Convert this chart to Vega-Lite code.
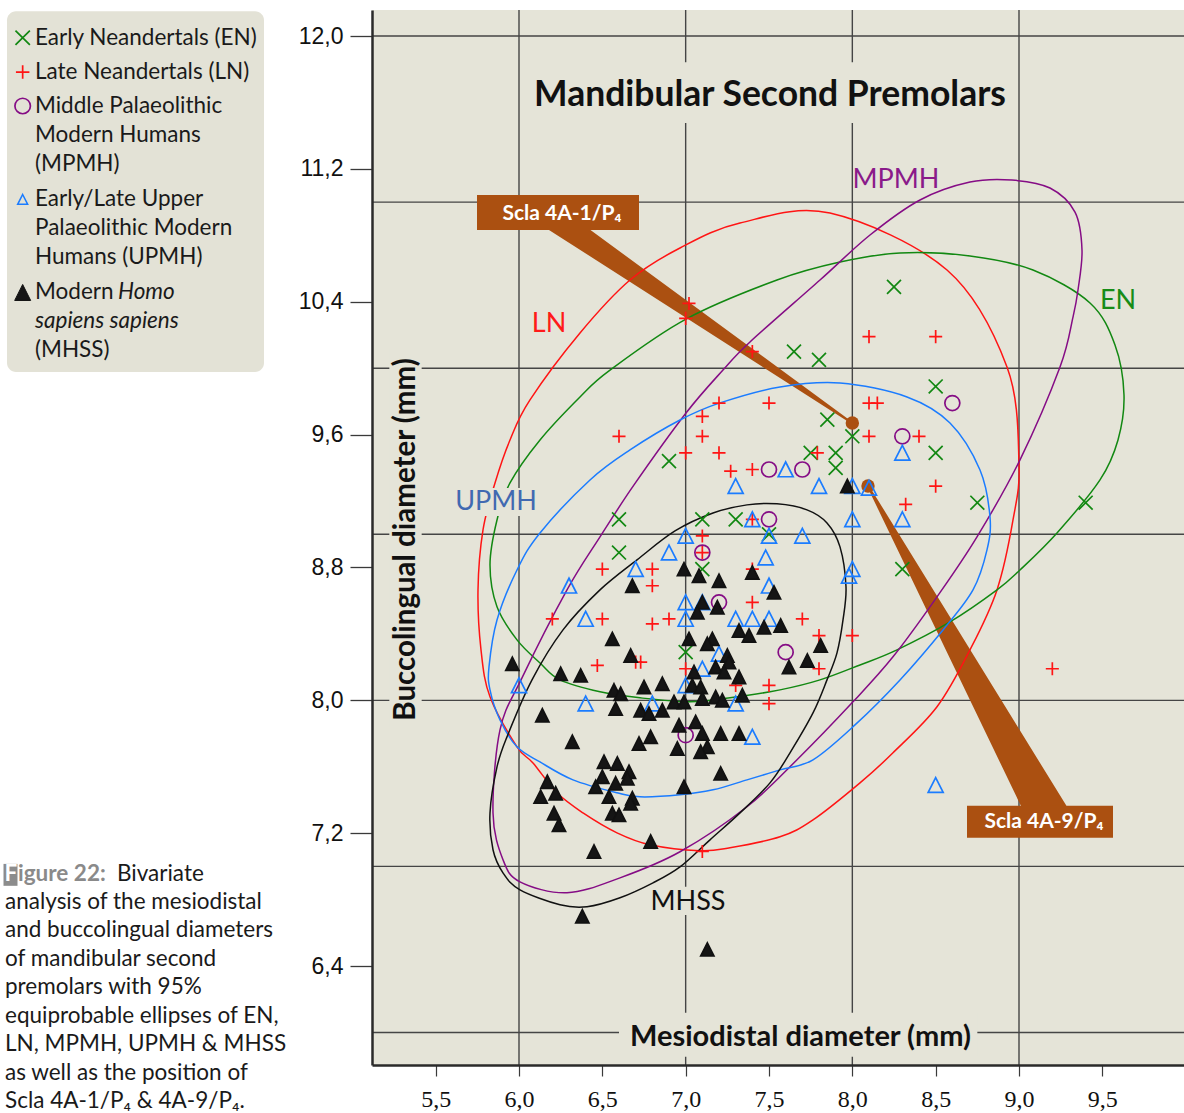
{
  "$schema": "https://vega.github.io/schema/vega-lite/v6.json",
  "width": 812,
  "height": 1055,
  "autosize": {"type": "none"},
  "padding": {"left": 372, "top": 10, "right": 0, "bottom": 48},
  "background": "#ffffff",
  "config": {"view": {"fill": "#e5e4d8", "stroke": null}},
  "title": {"text": "Mandibular Second Premolars", "frame": "group", "anchor": "middle", "orient": "top", "offset": -121, "baseline": "middle", "dx": -8, "font": "Lato", "fontSize": 35.5, "fontWeight": "bold", "color": "#111111"},
  "resolve": {"scale": {"size": "independent"}},
  "datasets": {
    "gridx": [{"x": 6}, {"x": 7}, {"x": 8}, {"x": 9}],
    "gridy": [{"y": 6}, {"y": 7}, {"y": 8}, {"y": 9}, {"y": 10}, {"y": 11}, {"y": 12}],
    "wedgeA": [{"x": 6.18, "y": 10.922, "e": 1}, {"x": 7.998, "y": 9.67, "e": 0}],
    "wedgeB": [{"x": 8.094, "y": 9.291, "e": 0}, {"x": 9.174, "y": 7.31, "e": 1}],
    "dots": [{"x": 8.0, "y": 9.67}, {"x": 8.094, "y": 9.291}],
    "boxes": [
      {"x": 6.036, "x2": 8.976, "y": 11.476, "y2": 11.843},
      {"x": 6.6, "x2": 8.75, "y": 5.853, "y2": 6.118},
      {"x": 5.222, "x2": 5.416, "y": 7.84, "y2": 10.12},
      {"x": 5.616, "x2": 6.114, "y": 9.11, "y2": 9.279},
      {"x": 6.786, "x2": 7.242, "y": 6.708, "y2": 6.877}
    ],
    "elabels": [
      {"g": "LN", "x": 6.18, "y": 10.266},
      {"g": "EN", "x": 9.594, "y": 10.405},
      {"g": "MPMH", "x": 8.262, "y": 11.133},
      {"g": "UPMH", "x": 5.862, "y": 9.195},
      {"g": "MHSS", "x": 7.014, "y": 6.787}
    ],
    "ellipses": [
      {"g": "LN", "i": 1, "x": 7.866, "y": 10.934}, {"g": "LN", "i": 2, "x": 8.568, "y": 10.591}, {"g": "LN", "i": 3, "x": 8.928, "y": 10.007}, {"g": "LN", "i": 4, "x": 9.0, "y": 9.429}, {"g": "LN", "i": 5, "x": 8.964, "y": 9.086}, {"g": "LN", "i": 6, "x": 8.868, "y": 8.665}, {"g": "LN", "i": 7, "x": 8.706, "y": 8.304}, {"g": "LN", "i": 8, "x": 8.508, "y": 7.961}, {"g": "LN", "i": 9, "x": 8.244, "y": 7.684}, {"g": "LN", "i": 10, "x": 8.046, "y": 7.503}, {"g": "LN", "i": 11, "x": 7.764, "y": 7.28}, {"g": "LN", "i": 12, "x": 7.566, "y": 7.178}, {"g": "LN", "i": 13, "x": 7.266, "y": 7.112}, {"g": "LN", "i": 14, "x": 7.086, "y": 7.094}, {"g": "LN", "i": 15, "x": 6.786, "y": 7.13}, {"g": "LN", "i": 16, "x": 6.588, "y": 7.202}, {"g": "LN", "i": 17, "x": 6.384, "y": 7.322}, {"g": "LN", "i": 18, "x": 6.228, "y": 7.443}, {"g": "LN", "i": 19, "x": 6.084, "y": 7.623}, {"g": "LN", "i": 20, "x": 5.988, "y": 7.72}, {"g": "LN", "i": 21, "x": 5.826, "y": 8.021}, {"g": "LN", "i": 22, "x": 5.772, "y": 8.304}, {"g": "LN", "i": 23, "x": 5.754, "y": 8.665}, {"g": "LN", "i": 24, "x": 5.784, "y": 9.026}, {"g": "LN", "i": 25, "x": 5.856, "y": 9.309}, {"g": "LN", "i": 26, "x": 5.946, "y": 9.568}, {"g": "LN", "i": 27, "x": 6.066, "y": 9.809}, {"g": "LN", "i": 28, "x": 6.366, "y": 10.212}, {"g": "LN", "i": 29, "x": 6.666, "y": 10.531}, {"g": "LN", "i": 30, "x": 6.966, "y": 10.724}, {"g": "LN", "i": 31, "x": 7.326, "y": 10.874},
      {"g": "EN", "i": 1, "x": 8.286, "y": 10.694}, {"g": "EN", "i": 2, "x": 8.706, "y": 10.676}, {"g": "EN", "i": 3, "x": 9.084, "y": 10.591}, {"g": "EN", "i": 4, "x": 9.426, "y": 10.393}, {"g": "EN", "i": 5, "x": 9.576, "y": 10.14}, {"g": "EN", "i": 6, "x": 9.63, "y": 9.839}, {"g": "EN", "i": 7, "x": 9.594, "y": 9.568}, {"g": "EN", "i": 8, "x": 9.486, "y": 9.327}, {"g": "EN", "i": 9, "x": 9.228, "y": 9.008}, {"g": "EN", "i": 10, "x": 9.006, "y": 8.785}, {"g": "EN", "i": 11, "x": 8.868, "y": 8.665}, {"g": "EN", "i": 12, "x": 8.586, "y": 8.472}, {"g": "EN", "i": 13, "x": 8.268, "y": 8.304}, {"g": "EN", "i": 14, "x": 8.046, "y": 8.213}, {"g": "EN", "i": 15, "x": 7.806, "y": 8.123}, {"g": "EN", "i": 16, "x": 7.566, "y": 8.063}, {"g": "EN", "i": 17, "x": 7.266, "y": 8.015}, {"g": "EN", "i": 18, "x": 7.026, "y": 7.991}, {"g": "EN", "i": 19, "x": 6.726, "y": 8.015}, {"g": "EN", "i": 20, "x": 6.486, "y": 8.051}, {"g": "EN", "i": 21, "x": 6.246, "y": 8.123}, {"g": "EN", "i": 22, "x": 6.126, "y": 8.225}, {"g": "EN", "i": 23, "x": 5.988, "y": 8.364}, {"g": "EN", "i": 24, "x": 5.868, "y": 8.563}, {"g": "EN", "i": 25, "x": 5.826, "y": 8.815}, {"g": "EN", "i": 26, "x": 5.868, "y": 9.086}, {"g": "EN", "i": 27, "x": 5.946, "y": 9.309}, {"g": "EN", "i": 28, "x": 6.126, "y": 9.568}, {"g": "EN", "i": 29, "x": 6.366, "y": 9.827}, {"g": "EN", "i": 30, "x": 6.546, "y": 9.989}, {"g": "EN", "i": 31, "x": 7.002, "y": 10.296}, {"g": "EN", "i": 32, "x": 7.548, "y": 10.531}, {"g": "EN", "i": 33, "x": 7.926, "y": 10.639},
      {"g": "MPMH", "i": 1, "x": 8.958, "y": 11.133}, {"g": "MPMH", "i": 2, "x": 9.186, "y": 11.085}, {"g": "MPMH", "i": 3, "x": 9.336, "y": 10.94}, {"g": "MPMH", "i": 4, "x": 9.378, "y": 10.712}, {"g": "MPMH", "i": 5, "x": 9.354, "y": 10.471}, {"g": "MPMH", "i": 6, "x": 9.324, "y": 10.308}, {"g": "MPMH", "i": 7, "x": 9.246, "y": 10.007}, {"g": "MPMH", "i": 8, "x": 9.006, "y": 9.448}, {"g": "MPMH", "i": 9, "x": 8.748, "y": 8.984}, {"g": "MPMH", "i": 10, "x": 8.508, "y": 8.623}, {"g": "MPMH", "i": 11, "x": 8.244, "y": 8.262}, {"g": "MPMH", "i": 12, "x": 8.004, "y": 7.991}, {"g": "MPMH", "i": 13, "x": 7.668, "y": 7.642}, {"g": "MPMH", "i": 14, "x": 7.368, "y": 7.359}, {"g": "MPMH", "i": 15, "x": 6.966, "y": 7.088}, {"g": "MPMH", "i": 16, "x": 6.606, "y": 6.931}, {"g": "MPMH", "i": 17, "x": 6.288, "y": 6.841}, {"g": "MPMH", "i": 18, "x": 6.006, "y": 6.907}, {"g": "MPMH", "i": 19, "x": 5.904, "y": 7.04}, {"g": "MPMH", "i": 20, "x": 5.844, "y": 7.322}, {"g": "MPMH", "i": 21, "x": 5.886, "y": 7.822}, {"g": "MPMH", "i": 22, "x": 6.018, "y": 8.135}, {"g": "MPMH", "i": 23, "x": 6.288, "y": 8.665}, {"g": "MPMH", "i": 24, "x": 6.486, "y": 8.984}, {"g": "MPMH", "i": 25, "x": 6.69, "y": 9.297}, {"g": "MPMH", "i": 26, "x": 7.002, "y": 9.73}, {"g": "MPMH", "i": 27, "x": 7.224, "y": 9.989}, {"g": "MPMH", "i": 28, "x": 7.386, "y": 10.158}, {"g": "MPMH", "i": 29, "x": 7.806, "y": 10.531}, {"g": "MPMH", "i": 30, "x": 8.106, "y": 10.802}, {"g": "MPMH", "i": 31, "x": 8.406, "y": 11.013}, {"g": "MPMH", "i": 32, "x": 8.706, "y": 11.121},
      {"g": "UPMH", "i": 1, "x": 7.926, "y": 9.911}, {"g": "UPMH", "i": 2, "x": 8.328, "y": 9.827}, {"g": "UPMH", "i": 3, "x": 8.586, "y": 9.67}, {"g": "UPMH", "i": 4, "x": 8.766, "y": 9.387}, {"g": "UPMH", "i": 5, "x": 8.826, "y": 9.104}, {"g": "UPMH", "i": 6, "x": 8.808, "y": 8.906}, {"g": "UPMH", "i": 7, "x": 8.724, "y": 8.665}, {"g": "UPMH", "i": 8, "x": 8.544, "y": 8.424}, {"g": "UPMH", "i": 9, "x": 8.286, "y": 8.123}, {"g": "UPMH", "i": 10, "x": 8.016, "y": 7.852}, {"g": "UPMH", "i": 11, "x": 7.764, "y": 7.642}, {"g": "UPMH", "i": 12, "x": 7.566, "y": 7.581}, {"g": "UPMH", "i": 13, "x": 7.368, "y": 7.521}, {"g": "UPMH", "i": 14, "x": 7.164, "y": 7.461}, {"g": "UPMH", "i": 15, "x": 6.966, "y": 7.431}, {"g": "UPMH", "i": 16, "x": 6.726, "y": 7.419}, {"g": "UPMH", "i": 17, "x": 6.588, "y": 7.443}, {"g": "UPMH", "i": 18, "x": 6.324, "y": 7.521}, {"g": "UPMH", "i": 19, "x": 6.126, "y": 7.629}, {"g": "UPMH", "i": 20, "x": 5.988, "y": 7.72}, {"g": "UPMH", "i": 21, "x": 5.886, "y": 7.882}, {"g": "UPMH", "i": 22, "x": 5.826, "y": 8.063}, {"g": "UPMH", "i": 23, "x": 5.82, "y": 8.201}, {"g": "UPMH", "i": 24, "x": 5.868, "y": 8.484}, {"g": "UPMH", "i": 25, "x": 5.988, "y": 8.785}, {"g": "UPMH", "i": 26, "x": 6.126, "y": 9.008}, {"g": "UPMH", "i": 27, "x": 6.426, "y": 9.327}, {"g": "UPMH", "i": 28, "x": 6.666, "y": 9.508}, {"g": "UPMH", "i": 29, "x": 6.966, "y": 9.688}, {"g": "UPMH", "i": 30, "x": 7.206, "y": 9.791}, {"g": "UPMH", "i": 31, "x": 7.566, "y": 9.887},
      {"g": "MHSS", "i": 1, "x": 7.368, "y": 9.177}, {"g": "MHSS", "i": 2, "x": 7.548, "y": 9.183}, {"g": "MHSS", "i": 3, "x": 7.728, "y": 9.147}, {"g": "MHSS", "i": 4, "x": 7.848, "y": 9.068}, {"g": "MHSS", "i": 5, "x": 7.926, "y": 8.924}, {"g": "MHSS", "i": 6, "x": 7.962, "y": 8.683}, {"g": "MHSS", "i": 7, "x": 7.944, "y": 8.484}, {"g": "MHSS", "i": 8, "x": 7.908, "y": 8.286}, {"g": "MHSS", "i": 9, "x": 7.848, "y": 8.123}, {"g": "MHSS", "i": 10, "x": 7.764, "y": 7.924}, {"g": "MHSS", "i": 11, "x": 7.626, "y": 7.684}, {"g": "MHSS", "i": 12, "x": 7.506, "y": 7.503}, {"g": "MHSS", "i": 13, "x": 7.326, "y": 7.322}, {"g": "MHSS", "i": 14, "x": 7.146, "y": 7.16}, {"g": "MHSS", "i": 15, "x": 6.966, "y": 6.997}, {"g": "MHSS", "i": 16, "x": 6.804, "y": 6.901}, {"g": "MHSS", "i": 17, "x": 6.606, "y": 6.811}, {"g": "MHSS", "i": 18, "x": 6.408, "y": 6.757}, {"g": "MHSS", "i": 19, "x": 6.246, "y": 6.769}, {"g": "MHSS", "i": 20, "x": 6.006, "y": 6.859}, {"g": "MHSS", "i": 21, "x": 5.904, "y": 6.961}, {"g": "MHSS", "i": 22, "x": 5.844, "y": 7.1}, {"g": "MHSS", "i": 23, "x": 5.826, "y": 7.322}, {"g": "MHSS", "i": 24, "x": 5.868, "y": 7.599}, {"g": "MHSS", "i": 25, "x": 5.928, "y": 7.78}, {"g": "MHSS", "i": 26, "x": 6.078, "y": 8.123}, {"g": "MHSS", "i": 27, "x": 6.264, "y": 8.424}, {"g": "MHSS", "i": 28, "x": 6.486, "y": 8.665}, {"g": "MHSS", "i": 29, "x": 6.708, "y": 8.846}, {"g": "MHSS", "i": 30, "x": 6.936, "y": 9.02}, {"g": "MHSS", "i": 31, "x": 7.164, "y": 9.128}
    ],
    "pts": [
      {"g": "EN", "x": 8.25, "y": 10.49}, {"g": "EN", "x": 7.65, "y": 10.1}, {"g": "EN", "x": 7.8, "y": 10.05}, {"g": "EN", "x": 8.5, "y": 9.89}, {"g": "EN", "x": 7.85, "y": 9.69}, {"g": "EN", "x": 8.0, "y": 9.59}, {"g": "EN", "x": 6.9, "y": 9.44}, {"g": "EN", "x": 7.75, "y": 9.49}, {"g": "EN", "x": 7.9, "y": 9.49}, {"g": "EN", "x": 7.9, "y": 9.4}, {"g": "EN", "x": 8.5, "y": 9.49}, {"g": "EN", "x": 8.75, "y": 9.19}, {"g": "EN", "x": 9.4, "y": 9.19}, {"g": "EN", "x": 6.6, "y": 9.09}, {"g": "EN", "x": 7.1, "y": 9.09}, {"g": "EN", "x": 7.3, "y": 9.09}, {"g": "EN", "x": 7.5, "y": 9.0}, {"g": "EN", "x": 6.6, "y": 8.89}, {"g": "EN", "x": 7.1, "y": 8.79}, {"g": "EN", "x": 8.3, "y": 8.79}, {"g": "EN", "x": 7.0, "y": 8.29},
      {"g": "LN", "x": 7.02, "y": 10.39}, {"g": "LN", "x": 7.0, "y": 10.3}, {"g": "LN", "x": 7.4, "y": 10.1}, {"g": "LN", "x": 7.2, "y": 9.79}, {"g": "LN", "x": 7.5, "y": 9.79}, {"g": "LN", "x": 7.1, "y": 9.71}, {"g": "LN", "x": 6.6, "y": 9.59}, {"g": "LN", "x": 7.1, "y": 9.59}, {"g": "LN", "x": 7.0, "y": 9.49}, {"g": "LN", "x": 7.2, "y": 9.49}, {"g": "LN", "x": 7.27, "y": 9.38}, {"g": "LN", "x": 7.4, "y": 9.39}, {"g": "LN", "x": 7.79, "y": 9.49}, {"g": "LN", "x": 8.1, "y": 10.19}, {"g": "LN", "x": 8.5, "y": 10.19}, {"g": "LN", "x": 8.1, "y": 9.79}, {"g": "LN", "x": 8.15, "y": 9.79}, {"g": "LN", "x": 8.1, "y": 9.59}, {"g": "LN", "x": 8.4, "y": 9.59}, {"g": "LN", "x": 8.5, "y": 9.29}, {"g": "LN", "x": 8.32, "y": 9.18}, {"g": "LN", "x": 9.2, "y": 8.19}, {"g": "LN", "x": 6.5, "y": 8.79}, {"g": "LN", "x": 6.8, "y": 8.79}, {"g": "LN", "x": 6.8, "y": 8.69}, {"g": "LN", "x": 6.2, "y": 8.49}, {"g": "LN", "x": 6.5, "y": 8.49}, {"g": "LN", "x": 6.8, "y": 8.46}, {"g": "LN", "x": 6.9, "y": 8.49}, {"g": "LN", "x": 6.47, "y": 8.21}, {"g": "LN", "x": 6.7, "y": 8.23}, {"g": "LN", "x": 6.73, "y": 8.23}, {"g": "LN", "x": 7.4, "y": 9.09}, {"g": "LN", "x": 7.1, "y": 8.99}, {"g": "LN", "x": 7.1, "y": 8.89}, {"g": "LN", "x": 7.4, "y": 8.79}, {"g": "LN", "x": 7.4, "y": 8.59}, {"g": "LN", "x": 7.7, "y": 8.49}, {"g": "LN", "x": 7.8, "y": 8.39}, {"g": "LN", "x": 8.0, "y": 8.39}, {"g": "LN", "x": 7.8, "y": 8.19}, {"g": "LN", "x": 7.0, "y": 8.19}, {"g": "LN", "x": 7.3, "y": 8.09}, {"g": "LN", "x": 7.5, "y": 8.09}, {"g": "LN", "x": 7.5, "y": 7.98}, {"g": "LN", "x": 7.1, "y": 7.09},
      {"g": "MPMH", "x": 7.5, "y": 9.39}, {"g": "MPMH", "x": 7.7, "y": 9.39}, {"g": "MPMH", "x": 8.6, "y": 9.79}, {"g": "MPMH", "x": 8.3, "y": 9.59}, {"g": "MPMH", "x": 7.5, "y": 9.09}, {"g": "MPMH", "x": 7.1, "y": 8.89}, {"g": "MPMH", "x": 7.2, "y": 8.59}, {"g": "MPMH", "x": 7.6, "y": 8.29}, {"g": "MPMH", "x": 7.0, "y": 7.79},
      {"g": "UPMH", "x": 7.6, "y": 9.39}, {"g": "UPMH", "x": 7.3, "y": 9.29}, {"g": "UPMH", "x": 7.8, "y": 9.29}, {"g": "UPMH", "x": 8.0, "y": 9.29}, {"g": "UPMH", "x": 8.1, "y": 9.28}, {"g": "UPMH", "x": 8.3, "y": 9.49}, {"g": "UPMH", "x": 8.0, "y": 9.09}, {"g": "UPMH", "x": 8.3, "y": 9.09}, {"g": "UPMH", "x": 8.5, "y": 7.49}, {"g": "UPMH", "x": 6.3, "y": 8.69}, {"g": "UPMH", "x": 6.4, "y": 8.49}, {"g": "UPMH", "x": 6.7, "y": 8.79}, {"g": "UPMH", "x": 6.9, "y": 8.89}, {"g": "UPMH", "x": 7.0, "y": 8.99}, {"g": "UPMH", "x": 7.0, "y": 8.59}, {"g": "UPMH", "x": 7.0, "y": 8.49}, {"g": "UPMH", "x": 7.4, "y": 9.09}, {"g": "UPMH", "x": 7.5, "y": 8.99}, {"g": "UPMH", "x": 7.7, "y": 8.99}, {"g": "UPMH", "x": 7.48, "y": 8.86}, {"g": "UPMH", "x": 8.0, "y": 8.79}, {"g": "UPMH", "x": 7.98, "y": 8.75}, {"g": "UPMH", "x": 7.5, "y": 8.69}, {"g": "UPMH", "x": 7.1, "y": 8.59}, {"g": "UPMH", "x": 7.3, "y": 8.49}, {"g": "UPMH", "x": 7.4, "y": 8.49}, {"g": "UPMH", "x": 7.5, "y": 8.49}, {"g": "UPMH", "x": 7.2, "y": 8.28}, {"g": "UPMH", "x": 7.1, "y": 8.19}, {"g": "UPMH", "x": 6.0, "y": 8.09}, {"g": "UPMH", "x": 6.4, "y": 7.98}, {"g": "UPMH", "x": 6.8, "y": 7.98}, {"g": "UPMH", "x": 7.0, "y": 8.09}, {"g": "UPMH", "x": 7.3, "y": 7.98}, {"g": "UPMH", "x": 7.4, "y": 7.78},
      {"g": "MHSS", "x": 6.99, "y": 8.79}, {"g": "MHSS", "x": 6.68, "y": 8.69}, {"g": "MHSS", "x": 6.56, "y": 8.37}, {"g": "MHSS", "x": 6.67, "y": 8.27}, {"g": "MHSS", "x": 5.96, "y": 8.22}, {"g": "MHSS", "x": 6.25, "y": 8.16}, {"g": "MHSS", "x": 6.37, "y": 8.15}, {"g": "MHSS", "x": 6.86, "y": 8.1}, {"g": "MHSS", "x": 7.97, "y": 9.29}, {"g": "MHSS", "x": 7.08, "y": 8.75}, {"g": "MHSS", "x": 7.2, "y": 8.72}, {"g": "MHSS", "x": 7.4, "y": 8.77}, {"g": "MHSS", "x": 7.53, "y": 8.65}, {"g": "MHSS", "x": 7.1, "y": 8.59}, {"g": "MHSS", "x": 7.07, "y": 8.53}, {"g": "MHSS", "x": 7.19, "y": 8.56}, {"g": "MHSS", "x": 7.32, "y": 8.42}, {"g": "MHSS", "x": 7.38, "y": 8.39}, {"g": "MHSS", "x": 7.47, "y": 8.44}, {"g": "MHSS", "x": 7.57, "y": 8.45}, {"g": "MHSS", "x": 7.02, "y": 8.37}, {"g": "MHSS", "x": 7.16, "y": 8.37}, {"g": "MHSS", "x": 7.13, "y": 8.34}, {"g": "MHSS", "x": 7.25, "y": 8.27}, {"g": "MHSS", "x": 7.26, "y": 8.23}, {"g": "MHSS", "x": 7.18, "y": 8.2}, {"g": "MHSS", "x": 7.23, "y": 8.17}, {"g": "MHSS", "x": 7.05, "y": 8.17}, {"g": "MHSS", "x": 7.32, "y": 8.14}, {"g": "MHSS", "x": 7.73, "y": 8.24}, {"g": "MHSS", "x": 7.62, "y": 8.2}, {"g": "MHSS", "x": 7.81, "y": 8.33}, {"g": "MHSS", "x": 6.57, "y": 8.06}, {"g": "MHSS", "x": 6.61, "y": 8.04}, {"g": "MHSS", "x": 6.75, "y": 8.08}, {"g": "MHSS", "x": 6.58, "y": 7.95}, {"g": "MHSS", "x": 6.73, "y": 7.94}, {"g": "MHSS", "x": 6.78, "y": 7.92}, {"g": "MHSS", "x": 6.86, "y": 7.94}, {"g": "MHSS", "x": 6.93, "y": 7.99}, {"g": "MHSS", "x": 6.99, "y": 7.99}, {"g": "MHSS", "x": 6.14, "y": 7.91}, {"g": "MHSS", "x": 6.96, "y": 7.85}, {"g": "MHSS", "x": 6.79, "y": 7.78}, {"g": "MHSS", "x": 6.72, "y": 7.74}, {"g": "MHSS", "x": 6.95, "y": 7.71}, {"g": "MHSS", "x": 6.32, "y": 7.75}, {"g": "MHSS", "x": 6.51, "y": 7.63}, {"g": "MHSS", "x": 6.59, "y": 7.62}, {"g": "MHSS", "x": 6.5, "y": 7.54}, {"g": "MHSS", "x": 6.66, "y": 7.57}, {"g": "MHSS", "x": 6.65, "y": 7.53}, {"g": "MHSS", "x": 6.58, "y": 7.5}, {"g": "MHSS", "x": 6.46, "y": 7.48}, {"g": "MHSS", "x": 6.17, "y": 7.51}, {"g": "MHSS", "x": 6.54, "y": 7.42}, {"g": "MHSS", "x": 6.68, "y": 7.41}, {"g": "MHSS", "x": 6.67, "y": 7.38}, {"g": "MHSS", "x": 6.99, "y": 7.48}, {"g": "MHSS", "x": 6.22, "y": 7.44}, {"g": "MHSS", "x": 6.13, "y": 7.42}, {"g": "MHSS", "x": 6.21, "y": 7.32}, {"g": "MHSS", "x": 6.56, "y": 7.32}, {"g": "MHSS", "x": 6.6, "y": 7.31}, {"g": "MHSS", "x": 6.24, "y": 7.25}, {"g": "MHSS", "x": 6.79, "y": 7.15}, {"g": "MHSS", "x": 6.45, "y": 7.09}, {"g": "MHSS", "x": 7.04, "y": 8.09}, {"g": "MHSS", "x": 7.09, "y": 8.08}, {"g": "MHSS", "x": 7.18, "y": 8.02}, {"g": "MHSS", "x": 7.22, "y": 8.0}, {"g": "MHSS", "x": 7.1, "y": 8.01}, {"g": "MHSS", "x": 7.34, "y": 8.03}, {"g": "MHSS", "x": 7.06, "y": 7.87}, {"g": "MHSS", "x": 7.1, "y": 7.8}, {"g": "MHSS", "x": 7.21, "y": 7.8}, {"g": "MHSS", "x": 7.32, "y": 7.8}, {"g": "MHSS", "x": 7.13, "y": 7.72}, {"g": "MHSS", "x": 7.09, "y": 7.69}, {"g": "MHSS", "x": 7.21, "y": 7.56}, {"g": "MHSS", "x": 6.38, "y": 6.7}, {"g": "MHSS", "x": 7.13, "y": 6.5}
    ],
    "sclaBoxes": [{"x": 5.748, "x2": 6.72, "y": 10.832, "y2": 11.043}, {"x": 8.688, "x2": 9.564, "y": 7.172, "y2": 7.365}],
    "sclaText": [{"t": "Scla 4A-1/P\u2084", "x": 6.258, "y": 10.928}, {"t": "Scla 4A-9/P\u2084", "x": 9.15, "y": 7.268}],
    "legBox": [{"x": 2.928, "x2": 4.47, "y": 9.977, "y2": 12.15}],
    "legSym": [{"g": "EN", "x": 3.022, "y": 11.99}, {"g": "LN", "x": 3.022, "y": 11.783}, {"g": "MPMH", "x": 3.022, "y": 11.579}],
    "legSymU": [{"g": "UPMH", "x": 3.022, "y": 11.016}],
    "legSymM": [{"g": "MHSS", "x": 3.022, "y": 10.456}],
    "legText": [
      {"t": "Early Neandertals (EN)", "x": 3.096, "y": 11.99},
      {"t": "Late Neandertals (LN)", "x": 3.096, "y": 11.783},
      {"t": "Middle Palaeolithic", "x": 3.096, "y": 11.579},
      {"t": "Modern Humans", "x": 3.096, "y": 11.404},
      {"t": "(MPMH)", "x": 3.096, "y": 11.229},
      {"t": "Early/Late Upper", "x": 3.096, "y": 11.016},
      {"t": "Palaeolithic Modern", "x": 3.096, "y": 10.844},
      {"t": "Humans (UPMH)", "x": 3.096, "y": 10.67},
      {"t": "Modern", "x": 3.096, "y": 10.456},
      {"t": "(MHSS)", "x": 3.096, "y": 10.11}
    ],
    "legItalic": [{"t": "Homo", "x": 3.594, "y": 10.456}, {"t": "sapiens sapiens", "x": 3.096, "y": 10.284}],
    "capBox": [{"x": 2.907, "x2": 2.991, "y": 6.883, "y2": 7.015}],
    "capF": [{"t": "F", "x": 2.913, "y": 6.915}],
    "capFig": [{"t": "igure 22:", "x": 2.994, "y": 6.915}],
    "capBiv": [{"t": "Bivariate", "x": 3.588, "y": 6.915}],
    "capRest": [{"t": "analysis of the mesiodistal\nand buccolingual diameters\nof mandibular second\npremolars with 95%\nequiprobable ellipses of EN,\nLN, MPMH, UPMH & MHSS\nas well as the position of\nScla 4A-1/P\u2084 & 4A-9/P\u2084.", "x": 2.916, "y": 6.746}]
  },
  "layer": [
    {
      "data": {"name": "gridx"},
      "mark": {"type": "rule", "color": "#454545", "strokeWidth": 1.4},
      "encoding": {
        "x": {"field": "x", "type": "quantitative", "scale": {"domain": [5.118, 9.99], "nice": false, "zero": false},
          "axis": {"values": [5.5, 6, 6.5, 7, 7.5, 8, 8.5, 9, 9.5], "labelExpr": "replace(format(datum.value, '.1f'), '.', ',')", "grid": false, "zindex": 1, "domainColor": "#2a2a2a", "domainWidth": 2.5, "tickColor": "#3a3a3a", "tickWidth": 1.2, "tickSize": 11, "labelFont": "Liberation Sans Narrow", "labelFontSize": 24, "labelColor": "#111111", "labelPadding": 11, "labelOverlap": false, "labelFlush": false, "title": "Mesiodistal diameter (mm)", "titleFont": "Lato", "titleFontSize": 29, "titleFontWeight": "bold", "titleColor": "#111111", "titleX": 428, "titleY": -29, "titleAlign": "center", "titleBaseline": "middle", "titleAngle": 0}}
      }
    },
    {
      "data": {"name": "gridy"},
      "mark": {"type": "rule", "color": "#454545", "strokeWidth": 1.4},
      "encoding": {
        "y": {"field": "y", "type": "quantitative", "scale": {"domain": [5.804, 12.157], "nice": false, "zero": false},
          "axis": {"values": [6.4, 7.2, 8, 8.8, 9.6, 10.4, 11.2, 12], "labelExpr": "replace(format(datum.value, '.1f'), '.', ',')", "grid": false, "zindex": 1, "domainColor": "#2a2a2a", "domainWidth": 2.5, "tickColor": "#3a3a3a", "tickWidth": 1.3, "tickSize": 22, "labelFont": "Liberation Sans", "labelFontSize": 23, "labelColor": "#111111", "labelPadding": 7, "labelOverlap": false, "labelFlush": false, "title": "Buccolingual diameter (mm)", "titleFont": "Lato", "titleFontSize": 29.5, "titleFontWeight": "bold", "titleColor": "#111111", "titleX": 33, "titleY": 529, "titleAngle": -90, "titleAlign": "center", "titleBaseline": "middle"}}
      }
    },
    {
      "data": {"name": "wedgeA"},
      "mark": {"type": "trail", "color": "#ab5011"},
      "encoding": {
        "x": {"field": "x", "type": "quantitative"},
        "y": {"field": "y", "type": "quantitative"},
        "size": {"field": "e", "type": "quantitative", "scale": {"domain": [0, 1], "range": [2, 25]}, "legend": null}
      }
    },
    {
      "data": {"name": "wedgeB"},
      "mark": {"type": "trail", "color": "#ab5011"},
      "encoding": {
        "x": {"field": "x", "type": "quantitative"},
        "y": {"field": "y", "type": "quantitative"},
        "size": {"field": "e", "type": "quantitative", "scale": {"domain": [0, 1], "range": [2, 41]}, "legend": null}
      }
    },
    {
      "data": {"name": "ellipses"},
      "mark": {"type": "line", "interpolate": "cardinal-closed", "strokeWidth": 1.5},
      "encoding": {
        "x": {"field": "x", "type": "quantitative"},
        "y": {"field": "y", "type": "quantitative"},
        "stroke": {"field": "g", "type": "nominal", "scale": {"domain": ["EN", "LN", "MPMH", "UPMH", "MHSS"], "range": ["#128812", "#ff1414", "#850c85", "#1b7cff", "#111111"]}, "legend": null},
        "order": {"field": "i", "type": "quantitative"}
      }
    },
    {
      "data": {"name": "boxes"},
      "mark": {"type": "rect", "color": "#e5e4d8"},
      "encoding": {
        "x": {"field": "x", "type": "quantitative"},
        "x2": {"field": "x2"},
        "y": {"field": "y", "type": "quantitative"},
        "y2": {"field": "y2"}
      }
    },
    {
      "data": {"name": "elabels"},
      "mark": {"type": "text", "font": "Lato", "fontSize": 27, "align": "center", "baseline": "middle"},
      "encoding": {
        "x": {"field": "x", "type": "quantitative"},
        "y": {"field": "y", "type": "quantitative"},
        "text": {"field": "g"},
        "color": {"field": "g", "type": "nominal", "scale": {"domain": ["EN", "LN", "MPMH", "UPMH", "MHSS"], "range": ["#178c17", "#ff1a1a", "#8a1a8a", "#4169b1", "#111111"]}, "legend": null}
      }
    },
    {
      "data": {"name": "dots"},
      "mark": {"type": "point", "shape": "circle", "filled": true, "color": "#ab5011", "size": 180, "opacity": 1},
      "encoding": {
        "x": {"field": "x", "type": "quantitative"},
        "y": {"field": "y", "type": "quantitative"}
      }
    },
    {
      "data": {"name": "pts"},
      "mark": {"type": "point", "strokeWidth": 1.7, "opacity": 1, "size": 225},
      "encoding": {
        "x": {"field": "x", "type": "quantitative"},
        "y": {"field": "y", "type": "quantitative"},
        "shape": {"field": "g", "type": "nominal", "scale": {"domain": ["EN", "LN", "MPMH", "UPMH", "MHSS"], "range": ["M-0.93,-0.93L0.93,0.93M-0.93,0.93L0.93,-0.93", "M-0.87,0L0.87,0M0,-0.87L0,0.87", "circle", "M0,-1L1,0.97L-1,0.97Z", "M0,-0.88L0.88,0.88L-0.88,0.88Z"]}, "legend": null},
        "stroke": {"field": "g", "type": "nominal", "scale": {"domain": ["EN", "LN", "MPMH", "UPMH", "MHSS"], "range": ["#128812", "#ff1414", "#850c85", "#1b7cff", "#111111"]}, "legend": null},
        "fill": {"field": "g", "type": "nominal", "scale": {"domain": ["EN", "LN", "MPMH", "UPMH", "MHSS"], "range": ["transparent", "transparent", "transparent", "transparent", "#151515"]}, "legend": null}
      }
    },
    {
      "data": {"name": "sclaBoxes"},
      "mark": {"type": "rect", "color": "#ab5011"},
      "encoding": {
        "x": {"field": "x", "type": "quantitative"},
        "x2": {"field": "x2"},
        "y": {"field": "y", "type": "quantitative"},
        "y2": {"field": "y2"}
      }
    },
    {
      "data": {"name": "sclaText"},
      "mark": {"type": "text", "font": "Lato", "fontSize": 21, "fontWeight": "bold", "color": "#ffffff", "align": "center", "baseline": "middle"},
      "encoding": {
        "x": {"field": "x", "type": "quantitative"},
        "y": {"field": "y", "type": "quantitative"},
        "text": {"field": "t"}
      }
    },
    {
      "data": {"name": "legBox"},
      "mark": {"type": "rect", "color": "#e3e2d6", "cornerRadius": 9},
      "encoding": {
        "x": {"field": "x", "type": "quantitative"},
        "x2": {"field": "x2"},
        "y": {"field": "y", "type": "quantitative"},
        "y2": {"field": "y2"}
      }
    },
    {
      "data": {"name": "legSym"},
      "mark": {"type": "point", "strokeWidth": 1.7, "opacity": 1, "size": 240},
      "encoding": {
        "x": {"field": "x", "type": "quantitative"},
        "y": {"field": "y", "type": "quantitative"},
        "shape": {"field": "g", "type": "nominal", "legend": null},
        "stroke": {"field": "g", "type": "nominal", "legend": null},
        "fill": {"field": "g", "type": "nominal", "legend": null}
      }
    },
    {
      "data": {"name": "legSymU"},
      "mark": {"type": "point", "strokeWidth": 1.5, "opacity": 1, "size": 100},
      "encoding": {
        "x": {"field": "x", "type": "quantitative"},
        "y": {"field": "y", "type": "quantitative"},
        "shape": {"field": "g", "type": "nominal", "legend": null},
        "stroke": {"field": "g", "type": "nominal", "legend": null},
        "fill": {"field": "g", "type": "nominal", "legend": null}
      }
    },
    {
      "data": {"name": "legSymM"},
      "mark": {"type": "point", "strokeWidth": 1, "opacity": 1, "size": 330},
      "encoding": {
        "x": {"field": "x", "type": "quantitative"},
        "y": {"field": "y", "type": "quantitative"},
        "shape": {"field": "g", "type": "nominal", "legend": null},
        "stroke": {"field": "g", "type": "nominal", "legend": null},
        "fill": {"field": "g", "type": "nominal", "legend": null}
      }
    },
    {
      "data": {"name": "legText"},
      "mark": {"type": "text", "font": "Lato", "fontSize": 22.5, "align": "left", "baseline": "middle", "color": "#1a1a1a"},
      "encoding": {
        "x": {"field": "x", "type": "quantitative"},
        "y": {"field": "y", "type": "quantitative"},
        "text": {"field": "t"}
      }
    },
    {
      "data": {"name": "legItalic"},
      "mark": {"type": "text", "font": "Lato", "fontSize": 22.5, "fontStyle": "italic", "align": "left", "baseline": "middle", "color": "#1a1a1a"},
      "encoding": {
        "x": {"field": "x", "type": "quantitative"},
        "y": {"field": "y", "type": "quantitative"},
        "text": {"field": "t"}
      }
    },
    {
      "data": {"name": "capBox"},
      "mark": {"type": "rect", "color": "#8c8c8c"},
      "encoding": {
        "x": {"field": "x", "type": "quantitative"},
        "x2": {"field": "x2"},
        "y": {"field": "y", "type": "quantitative"},
        "y2": {"field": "y2"}
      }
    },
    {
      "data": {"name": "capF"},
      "mark": {"type": "text", "font": "Lato", "fontSize": 22.5, "fontWeight": "bold", "align": "left", "baseline": "alphabetic", "color": "#ffffff"},
      "encoding": {
        "x": {"field": "x", "type": "quantitative"},
        "y": {"field": "y", "type": "quantitative"},
        "text": {"field": "t"}
      }
    },
    {
      "data": {"name": "capFig"},
      "mark": {"type": "text", "font": "Lato", "fontSize": 22.5, "fontWeight": "bold", "align": "left", "baseline": "alphabetic", "color": "#8a8a8a"},
      "encoding": {
        "x": {"field": "x", "type": "quantitative"},
        "y": {"field": "y", "type": "quantitative"},
        "text": {"field": "t"}
      }
    },
    {
      "data": {"name": "capBiv"},
      "mark": {"type": "text", "font": "Lato", "fontSize": 22.5, "align": "left", "baseline": "alphabetic", "color": "#1a1a1a"},
      "encoding": {
        "x": {"field": "x", "type": "quantitative"},
        "y": {"field": "y", "type": "quantitative"},
        "text": {"field": "t"}
      }
    },
    {
      "data": {"name": "capRest"},
      "mark": {"type": "text", "font": "Lato", "fontSize": 22.5, "align": "left", "baseline": "alphabetic", "color": "#1a1a1a", "lineBreak": "\n", "lineHeight": 28.5},
      "encoding": {
        "x": {"field": "x", "type": "quantitative"},
        "y": {"field": "y", "type": "quantitative"},
        "text": {"field": "t"}
      }
    }
  ]
}
